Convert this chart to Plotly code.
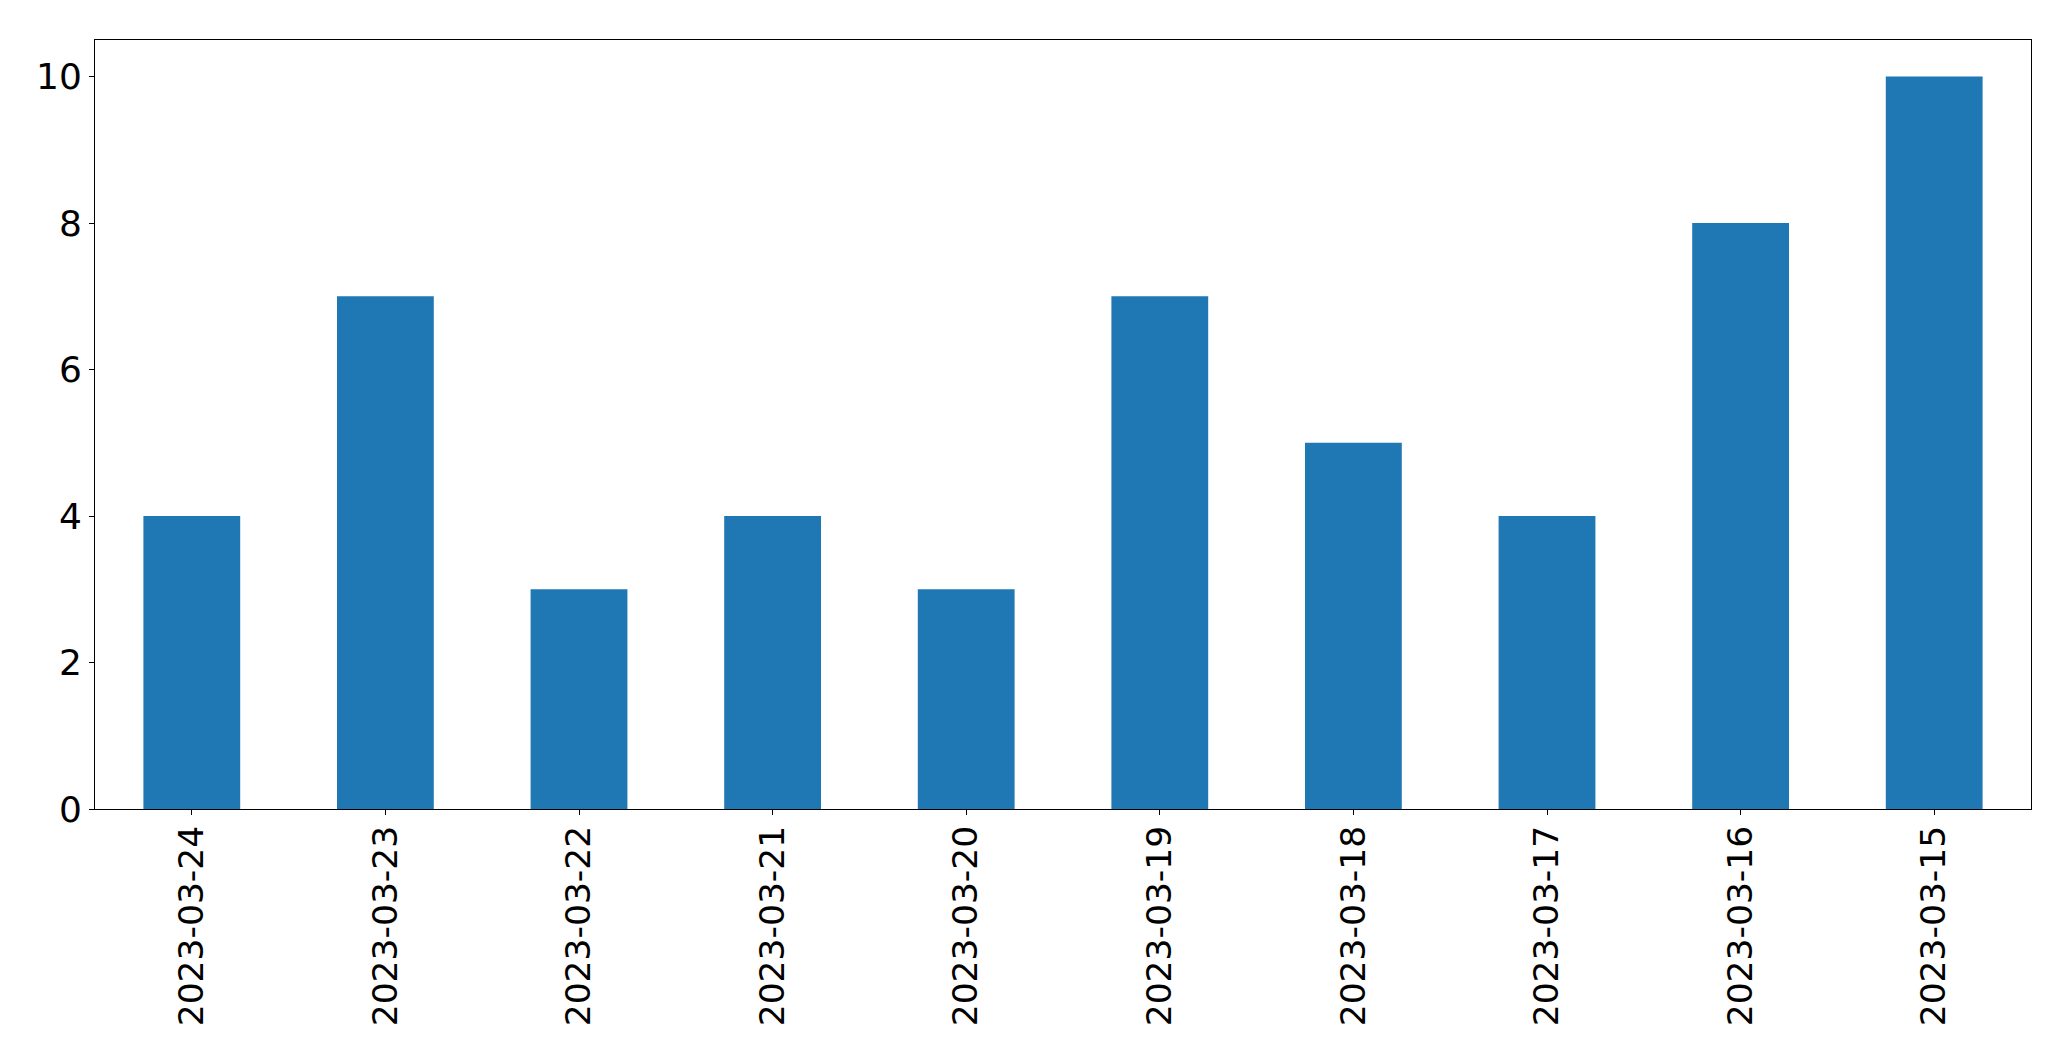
import plotly.graph_objects as go

dates = ["2023-03-24", "2023-03-23", "2023-03-22", "2023-03-21", "2023-03-20",
         "2023-03-19", "2023-03-18", "2023-03-17", "2023-03-16", "2023-03-15"]
counts = [4, 7, 3, 4, 3, 7, 5, 4, 8, 10]
y_ticks = [0, 2, 4, 6, 8, 10]

fig = go.Figure(go.Bar(x=dates, y=counts, marker=dict(color="#1f77b4", line=dict(width=0)),
                       width=0.5))

fig.update_layout(
    width=2071, height=1061,
    margin=dict(l=86.5, r=48, t=31.5, b=260, autoexpand=False),
    plot_bgcolor="white", paper_bgcolor="white",
    font=dict(family="DejaVu Sans", size=35, color="black"),
    showlegend=False,
    bargap=0.5,
)
fig.update_xaxes(type="category", range=[-0.5, 9.5], tickangle=-90,
                 showline=True, linecolor="black", linewidth=1, mirror=True,
                 ticks="outside", ticklen=5, tickcolor="black", showgrid=False,
                 ticklabelstandoff=-3,
                 tickfont=dict(size=34.5))
fig.update_yaxes(range=[0, 10.5], tickvals=y_ticks,
                 showline=True, linecolor="black", linewidth=1, mirror=True,
                 ticks="outside", ticklen=5, tickcolor="black", showgrid=False,
                 zeroline=False, tickfont=dict(size=36))

fig.write_html("out.html")
